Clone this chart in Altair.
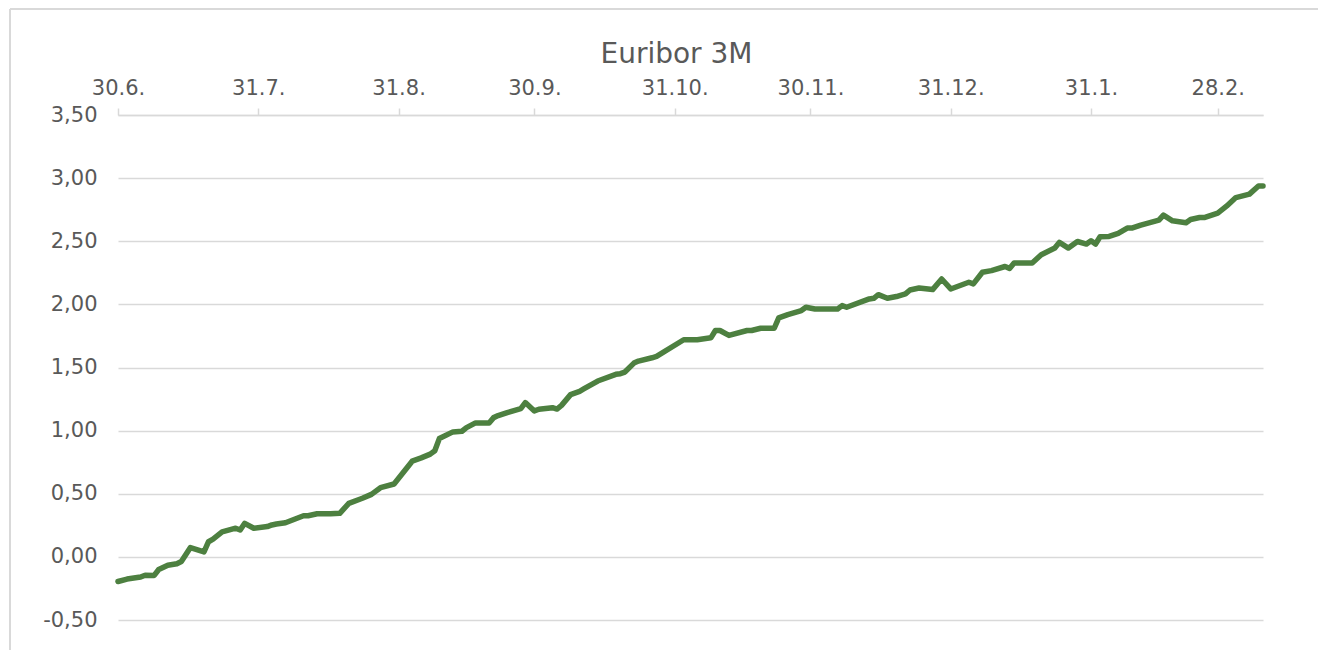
import altair as alt
import pandas as pd

# Euribor 3M, values
dates = [
    "2022-06-30", "2022-07-02", "2022-07-05", "2022-07-06", "2022-07-08", "2022-07-09",
    "2022-07-11", "2022-07-13", "2022-07-14", "2022-07-16", "2022-07-19", "2022-07-20",
    "2022-07-21", "2022-07-23", "2022-07-26", "2022-07-27", "2022-07-28", "2022-07-30",
    "2022-08-02", "2022-08-03", "2022-08-04", "2022-08-06", "2022-08-08", "2022-08-10",
    "2022-08-11", "2022-08-13", "2022-08-16", "2022-08-18", "2022-08-20", "2022-08-23",
    "2022-08-25", "2022-08-27", "2022-08-30", "2022-09-03", "2022-09-05", "2022-09-07",
    "2022-09-08", "2022-09-09", "2022-09-12", "2022-09-14", "2022-09-15", "2022-09-17",
    "2022-09-20", "2022-09-21", "2022-09-22", "2022-09-24", "2022-09-27", "2022-09-28",
    "2022-09-30", "2022-10-01", "2022-10-04", "2022-10-05", "2022-10-06", "2022-10-08",
    "2022-10-10", "2022-10-11", "2022-10-13", "2022-10-14", "2022-10-18", "2022-10-19",
    "2022-10-20", "2022-10-22", "2022-10-23", "2022-10-26", "2022-10-27", "2022-11-02",
    "2022-11-05", "2022-11-08", "2022-11-09", "2022-11-10", "2022-11-12", "2022-11-16",
    "2022-11-17", "2022-11-19", "2022-11-22", "2022-11-23", "2022-11-25", "2022-11-28",
    "2022-11-29", "2022-12-01", "2022-12-06", "2022-12-07", "2022-12-08", "2022-12-13",
    "2022-12-14", "2022-12-15", "2022-12-17", "2022-12-19", "2022-12-21", "2022-12-22",
    "2022-12-24", "2022-12-27", "2022-12-29", "2022-12-31", "2023-01-04", "2023-01-05",
    "2023-01-07", "2023-01-09", "2023-01-12", "2023-01-13", "2023-01-14", "2023-01-18",
    "2023-01-20", "2023-01-23", "2023-01-24", "2023-01-26", "2023-01-28", "2023-01-30",
    "2023-01-31", "2023-02-01", "2023-02-02", "2023-02-04", "2023-02-06", "2023-02-08",
    "2023-02-09", "2023-02-11", "2023-02-15", "2023-02-16", "2023-02-18", "2023-02-21",
    "2023-02-22", "2023-02-24", "2023-02-25", "2023-02-28", "2023-03-02", "2023-03-04",
    "2023-03-07", "2023-03-09", "2023-03-10",
]
values = [
    -0.195, -0.176, -0.160, -0.145, -0.147, -0.100,
    -0.066, -0.055, -0.037, 0.074, 0.040, 0.120,
    0.140, 0.198, 0.227, 0.213, 0.266, 0.227,
    0.240, 0.253, 0.260, 0.270, 0.298, 0.326,
    0.326, 0.342, 0.342, 0.345, 0.424, 0.464,
    0.495, 0.548, 0.577, 0.758, 0.784, 0.814,
    0.840, 0.937, 0.990, 0.995, 1.024, 1.061,
    1.061, 1.103, 1.119, 1.143, 1.174, 1.222,
    1.156, 1.169, 1.182, 1.171, 1.200, 1.285,
    1.311, 1.332, 1.372, 1.393, 1.446, 1.451,
    1.464, 1.535, 1.551, 1.577, 1.588, 1.720,
    1.720, 1.735, 1.793, 1.793, 1.754, 1.793,
    1.793, 1.811, 1.811, 1.893, 1.919, 1.951,
    1.977, 1.964, 1.964, 1.990, 1.977, 2.043,
    2.048, 2.077, 2.048, 2.062, 2.083, 2.114,
    2.130, 2.117, 2.201, 2.122, 2.175, 2.162,
    2.254, 2.267, 2.300, 2.285, 2.328, 2.328,
    2.393, 2.446, 2.491, 2.446, 2.498, 2.478,
    2.504, 2.478, 2.536, 2.538, 2.562, 2.604,
    2.604, 2.628, 2.667, 2.707, 2.662, 2.646,
    2.672, 2.688, 2.688, 2.723, 2.780, 2.846,
    2.873, 2.938, 2.938,
]

# axis ticks (month ends) and y ticks
x_ticks = [(2022, 6, 30), (2022, 7, 31), (2022, 8, 31), (2022, 9, 30), (2022, 10, 31),
           (2022, 11, 30), (2022, 12, 31), (2023, 1, 31), (2023, 2, 28)]
x_domain = [(2022, 6, 30), (2023, 3, 10)]
y_ticks = [-0.5, 0.0, 0.5, 1.0, 1.5, 2.0, 2.5, 3.0, 3.5]

df = pd.DataFrame({"date": dates, "value": values})

GRID = "#d9d9d9"
TXT = "#595959"
FONT = "DejaVu Sans"


def dt(t):
    return alt.DateTime(year=t[0], month=t[1], date=t[2], utc=True)


line = alt.Chart(df).mark_line(color="#4d8040", strokeWidth=5.5, strokeJoin="round", strokeCap="round").encode(
    x=alt.X(
        "date:T",
        scale=alt.Scale(type="utc", domain=[dt(x_domain[0]), dt(x_domain[1])]),
        axis=alt.Axis(
            orient="top",
            title=None,
            values=[dt(t) for t in x_ticks],
            labelExpr="utcFormat(datum.value, '%-d.%-m.')",
            grid=False,
            domain=True,
            domainColor=GRID,
            domainWidth=1.5,
            ticks=True,
            tickColor=GRID,
            tickWidth=1.5,
            tickSize=7,
            labelPadding=10,
            labelFontSize=21,
            labelColor=TXT,
            labelFont=FONT,
            labelFlush=False,
            labelOverlap=False,
        ),
    ),
    y=alt.Y(
        "value:Q",
        scale=alt.Scale(domain=[-0.5, 3.5], nice=False, zero=False),
        axis=alt.Axis(
            title=None,
            values=y_ticks,
            labelExpr="replace(replace(format(datum.value, '.2f'), '.', ','), '\u2212', '-')",
            grid=True,
            gridColor=GRID,
            gridWidth=1.5,
            domain=False,
            ticks=False,
            labelPadding=21,
            labelFontSize=21,
            labelColor=TXT,
            labelFont=FONT,
        ),
    ),
)

frame_df = pd.DataFrame({"k": [0]})
top_border = alt.Chart(frame_df).mark_rule(color=GRID, strokeWidth=2).encode(
    x=alt.value(-108), x2=alt.value(1210), y=alt.value(-106)
)
left_border = alt.Chart(frame_df).mark_rule(color=GRID, strokeWidth=2).encode(
    x=alt.value(-108), y=alt.value(-106), y2=alt.value(540)
)

chart = alt.layer(top_border, left_border, line).properties(
    width=1145,
    height=505,
    autosize=alt.AutoSizeParams(type="none"),
    padding={"left": 110, "top": 107, "right": 55, "bottom": 30},
    title=alt.TitleParams(
        "Euribor 3M", fontSize=28, font=FONT, fontWeight="normal", color=TXT,
        offset=14, dy=75, dx=-14, anchor="middle"
    ),
).configure_view(stroke=None)

chart.save("out.html", embed_options={"renderer": "svg", "actions": False})
